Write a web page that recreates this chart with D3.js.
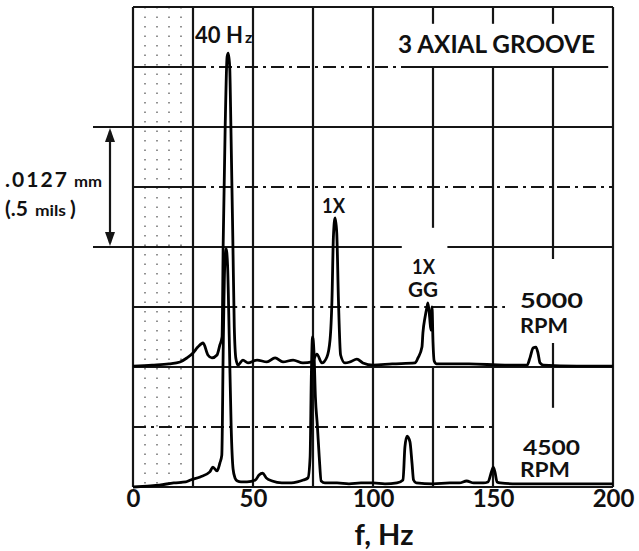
<!DOCTYPE html>
<html>
<head>
<meta charset="utf-8">
<script src="https://cdn.jsdelivr.net/npm/d3@7/dist/d3.min.js"></script>
<style>
  html, body { margin: 0; padding: 0; background: #fff; }
  svg { display: block; }
  text { font-family: Lato, "Liberation Sans", sans-serif; font-weight: 700; fill: #111; }
</style>
</head>
<body>
<svg id="chart" width="639" height="551"></svg>
<script>
// Frequency axis (Hz)
const freqTicks = [0, 50, 100, 150, 200];
const freqTickLabels = ["0", "50", "100", "150", "200"];

// 5000 RPM spectrum: frequency (Hz) and amplitude (mils) above its own baseline
const freq5000 = [0, 8, 15, 19.6, 22.5, 25, 27, 29.2, 31.2, 32.9, 35, 36.2, 37.1, 37.6, 38.4, 39.2, 39.7, 40.3, 40.8, 41.6, 42.2, 42.9, 43.75, 45.8, 47.9, 51.7, 55.8, 59.2, 62.5, 66.7, 70.8, 74.6, 76.6, 78.7, 80.8, 82.1, 82.9, 83.5, 84.2, 84.9, 85.6, 86.5, 88.3, 90.4, 93.3, 95.8, 100, 108, 117.5, 118.75, 120.4, 120.8, 121.7, 122.5, 122.9, 123.6, 124.1, 124.6, 125, 125.5, 126.5, 140, 155, 164.2, 165.4, 166.7, 167.9, 168.75, 169.6, 171, 185, 200];
const amp5000 = [0.004, 0.008, 0.013, 0.021, 0.038, 0.058, 0.083, 0.100, 0.050, 0.038, 0.050, 0.092, 0.125, 0.529, 0.996, 1.292, 1.308, 1.250, 0.996, 0.529, 0.167, 0.033, 0.008, 0.029, 0.017, 0.029, 0.021, 0.038, 0.021, 0.029, 0.017, 0.021, 0.054, 0.017, 0.042, 0.113, 0.279, 0.542, 0.621, 0.558, 0.279, 0.050, 0.017, 0.021, 0.033, 0.017, 0.008, 0.013, 0.017, 0.038, 0.083, 0.142, 0.208, 0.250, 0.267, 0.208, 0.154, 0.250, 0.104, 0.025, 0.013, 0.013, 0.008, 0.008, 0.038, 0.079, 0.083, 0.058, 0.017, 0.008, 0.004, 0.004];
// the 5000 RPM trace is lifted by half a mil on the chart
const offset5000 = 0.5;

// 4500 RPM spectrum: frequency (Hz) and amplitude (mils)
const freq4500 = [0, 6, 11, 17, 22, 24, 28, 32, 33.3, 35, 36.2, 37, 37.6, 38.2, 38.8, 39.4, 40.1, 40.9, 41.7, 42.5, 43.5, 45, 47.5, 51, 52.5, 54, 55.5, 58, 62, 66, 68.5, 71, 72.9, 73.8, 74.3, 74.8, 75.4, 76, 76.8, 77.6, 78.4, 80, 85, 90, 95, 100, 105, 110, 112.5, 113.3, 114.2, 115.4, 116.25, 116.9, 118, 125, 132, 136, 139, 142, 146, 147.9, 149.6, 150.1, 150.8, 151.7, 153, 160, 175, 190, 200];
const amp4500 = [0.000, 0.004, 0.008, 0.017, 0.021, 0.029, 0.042, 0.063, 0.083, 0.067, 0.100, 0.133, 0.583, 0.917, 0.992, 0.925, 0.625, 0.250, 0.075, 0.038, 0.025, 0.021, 0.021, 0.029, 0.050, 0.058, 0.038, 0.025, 0.017, 0.017, 0.021, 0.029, 0.038, 0.125, 0.458, 0.625, 0.563, 0.375, 0.258, 0.125, 0.025, 0.017, 0.017, 0.013, 0.017, 0.017, 0.013, 0.017, 0.029, 0.167, 0.212, 0.188, 0.100, 0.029, 0.017, 0.013, 0.017, 0.017, 0.025, 0.017, 0.017, 0.021, 0.071, 0.083, 0.063, 0.021, 0.017, 0.013, 0.013, 0.013, 0.013];

const svg = d3.select("#chart");
const x = d3.scaleLinear().domain([0, 200]).range([133, 613]);
const y = d3.scaleLinear().domain([0, 2]).range([487, 7]);

const ink = "#151515";
const dashDot = "13,5,3,5";

// ---- chart-paper grid ----
const grid = svg.append("g").attr("stroke", ink).attr("stroke-width", 2.2).attr("fill", "none");

// faint dotted minor rulings in the first column
[5, 10, 15, 20].forEach(f => {
  grid.append("line")
    .attr("x1", x(f)).attr("x2", x(f)).attr("y1", y(2)).attr("y2", y(0))
    .attr("stroke", "#777").attr("stroke-width", 1.6).attr("stroke-dasharray", "1.5,8");
});

function hSeg(level, f0, f1, dash) {
  grid.append("line")
    .attr("x1", x(f0)).attr("x2", x(f1)).attr("y1", y(level)).attr("y2", y(level))
    .attr("stroke-dasharray", dash || null);
}
function vSeg(f, a0, a1) {
  grid.append("line")
    .attr("x1", x(f)).attr("x2", x(f)).attr("y1", y(a0)).attr("y2", y(a1));
}

// solid rulings every half mil
[0, 0.5, 1.5, 2].forEach(l => hSeg(l, 0, 200));
hSeg(1.0, 0, 112);
hSeg(1.0, 131, 200);
// dash-dot rulings at the quarter mils
hSeg(1.75, 0, 25); hSeg(1.75, 25, 115, dashDot); hSeg(1.75, 115, 198);
hSeg(1.25, 0, 25); hSeg(1.25, 25, 200, dashDot);
hSeg(0.75, 0, 38); hSeg(0.75, 38, 155, dashDot);
hSeg(0.25, 0, 150, dashDot);

// vertical rulings every 25 Hz
[0, 25, 50, 75, 100, 200].forEach(f => vSeg(f, 0, 2));
vSeg(125, 1.08, 1.75); vSeg(125, 0, 0.5); vSeg(125, 1.93, 2);
vSeg(150, 0, 1.75); vSeg(150, 1.93, 2);
vSeg(175, 0.95, 1.75); vSeg(175, 0.33, 0.6); vSeg(175, 1.93, 2);

// ---- spectra ----
const line = d3.line()
  .x(d => x(d[0]))
  .y(d => y(d[1]))
  .curve(d3.curveMonotoneX);

const s4500 = freq4500.map((f, i) => [f, amp4500[i]]);
const s5000 = freq5000.map((f, i) => [f, amp5000[i] + offset5000]);

svg.append("path").datum(s4500)
  .attr("d", line).attr("fill", "none").attr("stroke", "#000")
  .attr("stroke-width", 2.8).attr("stroke-linejoin", "round");
svg.append("path").datum(s5000)
  .attr("d", line).attr("fill", "none").attr("stroke", "#000")
  .attr("stroke-width", 2.8).attr("stroke-linejoin", "round");

// ---- amplitude scale bar (0.5 mils) ----
const barX = 110;
const bar = svg.append("g").attr("stroke", ink).attr("stroke-width", 2.2);
bar.append("line").attr("x1", 93).attr("x2", x(0)).attr("y1", y(1.5)).attr("y2", y(1.5));
bar.append("line").attr("x1", 93).attr("x2", x(0)).attr("y1", y(1.0)).attr("y2", y(1.0));
bar.append("line").attr("x1", barX).attr("x2", barX).attr("y1", y(1.5) + 4).attr("y2", y(1.0) - 4);
const aTop = y(1.5), aBot = y(1.0);
svg.append("path").attr("fill", ink)
  .attr("d", `M${barX},${aTop + 1} L${barX - 5},${aTop + 15} L${barX + 5},${aTop + 15} Z`);
svg.append("path").attr("fill", ink)
  .attr("d", `M${barX},${aBot - 1} L${barX - 5},${aBot - 15} L${barX + 5},${aBot - 15} Z`);

const t1 = svg.append("text").attr("x", 5).attr("y", 187).attr("font-size", 21);
t1.append("tspan").attr("textLength", 62).attr("lengthAdjust", "spacing").text(".0127");
t1.append("tspan").attr("font-size", 15).attr("dx", 5).attr("textLength", 28)
  .attr("lengthAdjust", "spacingAndGlyphs").text("mm");
const t2 = svg.append("text").attr("x", 5).attr("y", 216).attr("font-size", 21);
t2.append("tspan").text("(.5");
t2.append("tspan").attr("font-size", 15).attr("dx", 7).attr("textLength", 31)
  .attr("lengthAdjust", "spacingAndGlyphs").text("mils");
t2.append("tspan").attr("dx", 4).text(")");

// ---- frequency axis ----
const axis = d3.axisBottom(x).tickValues(freqTicks)
  .tickFormat((d, i) => freqTickLabels[i]).tickSize(0).tickPadding(3);
const ax = svg.append("g").attr("transform", `translate(0,${y(0)})`).call(axis);
ax.select(".domain").remove();
ax.selectAll("text").attr("font-size", 24).attr("fill", "#111")
  .style("font-family", "Lato, 'Liberation Sans', sans-serif").style("font-weight", 700);

svg.append("text").attr("x", 384).attr("y", 545).attr("text-anchor", "middle")
  .attr("font-size", 29).text("f, Hz");

// ---- annotations ----
const t40 = svg.append("text").attr("x", 195).attr("y", 43).attr("font-size", 22);
t40.append("tspan").attr("textLength", 48).attr("lengthAdjust", "spacing").text("40 H");
t40.append("tspan").attr("font-size", 16).attr("dx", 2).text("z");

svg.append("text").attr("x", 398).attr("y", 53).attr("font-size", 24)
  .attr("textLength", 197).attr("lengthAdjust", "spacingAndGlyphs").text("3 AXIAL GROOVE");

svg.append("text").attr("x", 322).attr("y", 213).attr("font-size", 21)
  .attr("textLength", 23).attr("lengthAdjust", "spacingAndGlyphs").text("1X");
svg.append("text").attr("x", 412).attr("y", 274).attr("font-size", 20)
  .attr("textLength", 23).attr("lengthAdjust", "spacingAndGlyphs").text("1X");
svg.append("text").attr("x", 408).attr("y", 297).attr("font-size", 20)
  .attr("textLength", 30).attr("lengthAdjust", "spacingAndGlyphs").text("GG");

svg.append("text").attr("x", 520).attr("y", 308).attr("font-size", 21)
  .attr("textLength", 63).attr("lengthAdjust", "spacingAndGlyphs").text("5000");
svg.append("text").attr("x", 520).attr("y", 333).attr("font-size", 21)
  .attr("textLength", 48).attr("lengthAdjust", "spacingAndGlyphs").text("RPM");
svg.append("text").attr("x", 523).attr("y", 455).attr("font-size", 21)
  .attr("textLength", 57).attr("lengthAdjust", "spacingAndGlyphs").text("4500");
svg.append("text").attr("x", 520).attr("y", 477).attr("font-size", 20)
  .attr("textLength", 50).attr("lengthAdjust", "spacingAndGlyphs").text("RPM");
</script>
</body>
</html>
